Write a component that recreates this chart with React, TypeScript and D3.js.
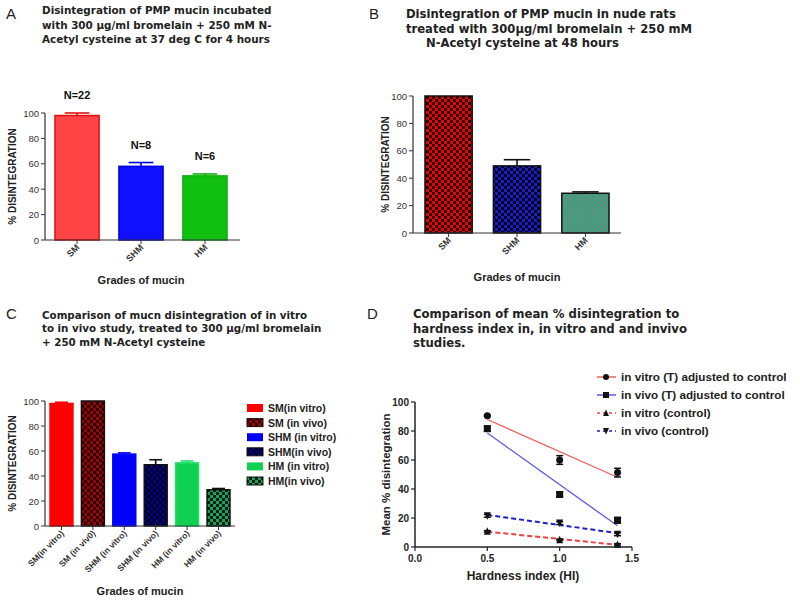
import React from "react";
import * as d3 from "d3";

// Panel A
const catsA = ["SM", "SHM", "HM"];
const valsA = [98, 58, 50.5];
const errA = [2, 3, 1.5];
const nA = ["N=22", "N=8", "N=6"];
// Panel B
const catsB = ["SM", "SHM", "HM"];
const valsB = [100, 49, 29];
const errB = [0, 4.5, 1];
// Panel C
const catsC = ["SM(in vitro)", "SM (in viv0)", "SHM (in vitro)", "SHM (in vivo)", "HM (in vitro)", "HM (in vivo)"];
const legendC = ["SM(in vitro)", "SM (in vivo)", "SHM (in vitro)", "SHM(in vivo)", "HM (in vitro)", "HM(in vivo)"];
const valsC = [98, 100, 57.5, 49, 50.5, 29];
const errC = [1, 0, 1, 4, 1.5, 1];
// Panel D
const hardness = [0.5, 1.0, 1.4];
const vitroT = [90.5, 60, 51.3];
const vitroTErr = [0.5, 3, 3];
const vivoT = [81.6, 36.2, 18.4];
const vivoTErr = [1.8, 1.5, 2];
const vitroC = [10.8, 5, 1.8];
const vitroCErr = [0.5, 0.5, 0.5];
const vivoC = [21.5, 16.5, 8.8];
const vivoCErr = [1, 1, 1];
const seriesNamesD = ["in vitro (T) adjusted to control", "in vivo (T) adjusted to control", "in vitro (control)", "in vivo  (control)"];
const yTicks = [0, 20, 40, 60, 80, 100];
const xTicksD = [0, 0.5, 1.0, 1.5];

const TITLE_FONT = "'DejaVu Sans', Verdana, sans-serif";
const AX_FONT = "'Liberation Sans', Arial, sans-serif";

type BarStyle = { fill: string; stroke: string; err: string };

function BarPanel(props: {
  cats: string[]; vals: number[]; errs: number[]; styles: BarStyle[];
  x0: number; x1: number; axisEnd: number; y0: number; y100: number;
  pi: number; po: number; labelSize: number; ylabelX: number; xlabelY: number; xlabelX: number;
  nLabels?: string[];
}) {
  const p = props;
  const x = d3.scaleBand<string>().domain(p.cats).range([p.x0, p.x1]).paddingInner(p.pi).paddingOuter(p.po);
  const y = d3.scaleLinear().domain([0, 100]).range([p.y0, p.y100]);
  const midY = (p.y0 + p.y100) / 2;
  return (
    <g>
      {p.cats.map((c, i) => {
        const bx = x(c)!;
        const bw = x.bandwidth();
        const top = y(p.vals[i]);
        const s = p.styles[i];
        const cx = bx + bw / 2;
        return (
          <g key={c}>
            {p.errs[i] > 0 && (
              <g stroke={s.err} strokeWidth={1.6}>
                <line x1={cx} x2={cx} y1={top} y2={y(p.vals[i] + p.errs[i])} />
                <line x1={cx - bw * 0.28} x2={cx + bw * 0.28} y1={y(p.vals[i] + p.errs[i])} y2={y(p.vals[i] + p.errs[i])} />
              </g>
            )}
            <rect x={bx} y={top} width={bw} height={p.y0 - top} fill={s.fill} stroke={s.stroke} strokeWidth={1.5} />
            {p.nLabels && (
              <text x={cx} y={y(p.vals[i] + p.errs[i]) - 14} textAnchor="middle" fontFamily={AX_FONT} fontWeight="bold" fontSize={11} fill="#111">{p.nLabels[i]}</text>
            )}
          </g>
        );
      })}
      <line x1={p.x0} x2={p.axisEnd} y1={p.y0} y2={p.y0} stroke="#333" strokeWidth={1.2} />
      <line x1={p.x0} x2={p.x0} y1={p.y0} y2={p.y100} stroke="#333" strokeWidth={1.2} />
      {yTicks.map((t) => (
        <g key={t}>
          <line x1={p.x0 - 4} x2={p.x0} y1={y(t)} y2={y(t)} stroke="#333" strokeWidth={1} />
          <text x={p.x0 - 6} y={y(t) + 3.5} textAnchor="end" fontFamily={AX_FONT} fontSize={9.5} fill="#333">{t}</text>
        </g>
      ))}
      {p.cats.map((c) => {
        const cx = x(c)! + x.bandwidth() / 2;
        return (
          <g key={c}>
            <line x1={cx} x2={cx} y1={p.y0} y2={p.y0 + 4} stroke="#333" strokeWidth={1} />
            <text transform={`translate(${cx + 3},${p.y0 + 8}) rotate(-45)`} textAnchor="end" fontFamily={AX_FONT} fontSize={p.labelSize} fontWeight="bold" fill="#333">{c}</text>
          </g>
        );
      })}
      <text transform={`translate(${p.ylabelX},${midY}) rotate(-90)`} textAnchor="middle" fontFamily={AX_FONT} fontWeight="bold" fontSize={10} fill="#222">% DISINTEGRATION</text>
      <text x={p.xlabelX} y={p.xlabelY} textAnchor="middle" fontFamily={AX_FONT} fontWeight="bold" fontSize={11} fill="#222">Grades of mucin</text>
    </g>
  );
}

function Title(props: { x: number; y: number; lines: string[]; xs?: number[]; size: number; lh: number }) {
  return (
    <g>
      {props.lines.map((l, i) => (
        <text key={i} x={props.xs ? props.xs[i] : props.x} y={props.y + i * props.lh} fontFamily={TITLE_FONT} fontWeight="bold" fontSize={props.size} fill="#222">{l}</text>
      ))}
    </g>
  );
}

function regression(xs: number[], ys: number[]) {
  const mx = d3.mean(xs)!;
  const my = d3.mean(ys)!;
  let sxy = 0, sxx = 0;
  xs.forEach((v, i) => { sxy += (v - mx) * (ys[i] - my); sxx += (v - mx) * (v - mx); });
  const b = sxy / sxx;
  return (v: number) => my + b * (v - mx);
}

function Marker(props: { type: string; x: number; y: number; s?: number }) {
  const { type, x, y } = props;
  const s = props.s ?? 7;
  if (type === "circle") return <circle cx={x} cy={y} r={s / 2} fill="#111" />;
  if (type === "square") return <rect x={x - s / 2} y={y - s / 2} width={s} height={s} fill="#111" />;
  if (type === "up") return <path d={`M${x},${y - s / 2 - 0.5}L${x + s / 2},${y + s / 2}L${x - s / 2},${y + s / 2}Z`} fill="#111" />;
  return <path d={`M${x},${y + s / 2 + 0.5}L${x + s / 2},${y - s / 2}L${x - s / 2},${y - s / 2}Z`} fill="#111" />;
}

function PanelD() {
  const x = d3.scaleLinear().domain([0, 1.5]).range([415, 632]);
  const y = d3.scaleLinear().domain([0, 100]).range([547, 402]);
  const series = [
    { vals: vitroT, errs: vitroTErr, color: "#f06060", dash: "", marker: "circle" },
    { vals: vivoT, errs: vivoTErr, color: "#5a5ae0", dash: "", marker: "square" },
    { vals: vitroC, errs: vitroCErr, color: "#f04040", dash: "5,3", marker: "up" },
    { vals: vivoC, errs: vivoCErr, color: "#2020d0", dash: "5,3", marker: "down" },
  ];
  return (
    <g>
      {series.map((s, si) => {
        const f = regression(hardness, s.vals);
        const x0 = hardness[0], x1 = hardness[hardness.length - 1];
        return (
          <g key={si}>
            <line x1={x(x0)} x2={x(x1)} y1={y(f(x0))} y2={y(f(x1))} stroke={s.color} strokeWidth={s.dash ? 2 : 1.3} strokeDasharray={s.dash} />
            {hardness.map((h, i) => (
              <g key={i}>
                <line x1={x(h)} x2={x(h)} y1={y(s.vals[i] - s.errs[i])} y2={y(s.vals[i] + s.errs[i])} stroke="#111" strokeWidth={1.5} />
                <line x1={x(h) - 3.5} x2={x(h) + 3.5} y1={y(s.vals[i] - s.errs[i])} y2={y(s.vals[i] - s.errs[i])} stroke="#111" strokeWidth={1.5} />
                <line x1={x(h) - 3.5} x2={x(h) + 3.5} y1={y(s.vals[i] + s.errs[i])} y2={y(s.vals[i] + s.errs[i])} stroke="#111" strokeWidth={1.5} />
                <Marker type={s.marker} x={x(h)} y={y(s.vals[i])} />
              </g>
            ))}
          </g>
        );
      })}
      <line x1={415} x2={632} y1={547} y2={547} stroke="#222" strokeWidth={1.5} />
      <line x1={415} x2={415} y1={547} y2={402} stroke="#222" strokeWidth={1.5} />
      {yTicks.map((t) => (
        <g key={t}>
          <line x1={411} x2={415} y1={y(t)} y2={y(t)} stroke="#222" strokeWidth={1.2} />
          <text x={409} y={y(t) + 3.5} textAnchor="end" fontFamily={AX_FONT} fontWeight="bold" fontSize={10} fill="#222">{t}</text>
        </g>
      ))}
      {xTicksD.map((t) => (
        <g key={t}>
          <line x1={x(t)} x2={x(t)} y1={547} y2={551} stroke="#222" strokeWidth={1.2} />
          <text x={x(t)} y={562} textAnchor="middle" fontFamily={AX_FONT} fontWeight="bold" fontSize={10} fill="#222">{d3.format(".1f")(t)}</text>
        </g>
      ))}
      <text x={523} y={580} textAnchor="middle" fontFamily={AX_FONT} fontWeight="bold" fontSize={12} fill="#222">Hardness index (HI)</text>
      <text transform="translate(390,474.5) rotate(-90)" textAnchor="middle" fontFamily={AX_FONT} fontWeight="bold" fontSize={11.5} fill="#222">Mean % disintegration</text>
      {series.map((s, i) => {
        const ly = 377 + i * 18;
        return (
          <g key={i}>
            <line x1={597} x2={616} y1={ly} y2={ly} stroke={s.color} strokeWidth={1.5} strokeDasharray={s.dash ? "3,3" : ""} />
            <Marker type={s.marker} x={606} y={ly} s={6} />
            <text x={621} y={ly + 4} fontFamily={AX_FONT} fontWeight="bold" fontSize={11.7} fill="#222">{seriesNamesD[i]}</text>
          </g>
        );
      })}
    </g>
  );
}

export default function App() {
  const stylesA: BarStyle[] = [
    { fill: "#ff4545", stroke: "#e01010", err: "#e01010" },
    { fill: "#1010ff", stroke: "#0000dd", err: "#0000dd" },
    { fill: "#10c010", stroke: "#10b010", err: "#10b010" },
  ];
  const stylesB: BarStyle[] = [
    { fill: "url(#chkRedB)", stroke: "#111", err: "#111" },
    { fill: "url(#chkBlueB)", stroke: "#111", err: "#111" },
    { fill: "url(#chkGreenB)", stroke: "#111", err: "#111" },
  ];
  const stylesC: BarStyle[] = [
    { fill: "#ff0000", stroke: "#ff0000", err: "#ff0000" },
    { fill: "url(#chkRedC)", stroke: "#111", err: "#111" },
    { fill: "#0000ff", stroke: "#0000ff", err: "#0000ff" },
    { fill: "url(#chkBlueC)", stroke: "#111", err: "#111" },
    { fill: "#10d050", stroke: "#20e070", err: "#20e070" },
    { fill: "url(#chkGreenC)", stroke: "#111", err: "#111" },
  ];
  const checker = (id: string, a: string, b: string) => (
    <pattern id={id} width={6} height={6} patternUnits="userSpaceOnUse">
      <rect width={6} height={6} fill={a} />
      <rect width={3} height={3} fill={b} />
      <rect x={3} y={3} width={3} height={3} fill={b} />
    </pattern>
  );
  return (
    <svg width={800} height={601} style={{ display: "block", position: "absolute", left: 0, top: 0 }} viewBox="0 0 800 601">
      <defs>
        {checker("chkRedB", "#ee0000", "#200000")}
        {checker("chkBlueB", "#1a1ad0", "#000010")}
        {checker("chkGreenB", "#30a880", "#6a8a80")}
        {checker("chkRedC", "#a00000", "#200000")}
        {checker("chkBlueC", "#000090", "#000010")}
        {checker("chkGreenC", "#20a060", "#082010")}
      </defs>
      <rect width={800} height={601} fill="#fff" />
      <text x={6} y={19} fontFamily={AX_FONT} fontSize={15} fill="#222">A</text>
      <text x={369} y={19} fontFamily={AX_FONT} fontSize={15} fill="#222">B</text>
      <text x={6} y={319} fontFamily={AX_FONT} fontSize={15} fill="#222">C</text>
      <text x={367} y={319} fontFamily={AX_FONT} fontSize={15} fill="#222">D</text>

      <Title x={42} y={14} lh={14.5} size={10.4} lines={["Disintegration of PMP mucin incubated", "with 300 \u00b5g/ml bromelain + 250 mM N-", "Acetyl cysteine at 37 deg C for 4 hours"]} />
      <Title x={406} y={18} lh={14.5} size={11.6} xs={[406, 406, 426]} lines={["Disintegration of PMP mucin in nude rats", "treated with 300\u00b5g/ml bromelain + 250 mM", "N-Acetyl cysteine at 48 hours"]} />
      <Title x={42} y={319} lh={13.3} size={10.3} lines={["Comparison of mucn disintegration of in vitro", "to in vivo study, treated to 300 \u00b5g/ml bromelain", "+ 250 mM N-Acetyl cysteine"]} />
      <Title x={413} y={318} lh={14.5} size={11.7} lines={["Comparison of mean %  disintegration to", "hardness index in, in vitro and and invivo", "studies."]} />

      <BarPanel cats={catsA} vals={valsA} errs={errA} styles={stylesA} x0={45} x1={237} axisEnd={240} y0={240} y100={113}
        pi={0.31} po={0.156} labelSize={9} ylabelX={16} xlabelY={284} xlabelX={141} nLabels={nA} />
      <BarPanel cats={catsB} vals={valsB} errs={errB} styles={stylesB} x0={413} x1={621} axisEnd={621} y0={233} y100={96}
        pi={0.31} po={0.175} labelSize={9} ylabelX={389} xlabelY={281} xlabelX={517} />
      <BarPanel cats={catsC} vals={valsC} errs={errC} styles={stylesC} x0={45} x1={235} axisEnd={235} y0={526} y100={401}
        pi={0.27} po={0.16} labelSize={8.5} ylabelX={16} xlabelY={595} xlabelX={140} />

      {legendC.map((l, i) => {
        const ly = 408 + i * 14.6;
        return (
          <g key={l}>
            <rect x={247} y={ly - 4} width={16} height={8} fill={stylesC[i].fill} stroke={stylesC[i].stroke === "#111" ? "#111" : "none"} strokeWidth={1} />
            <text x={268} y={ly + 4} fontFamily={AX_FONT} fontWeight="bold" fontSize={10.5} fill="#222">{l}</text>
          </g>
        );
      })}
      <PanelD />
    </svg>
  );
}
